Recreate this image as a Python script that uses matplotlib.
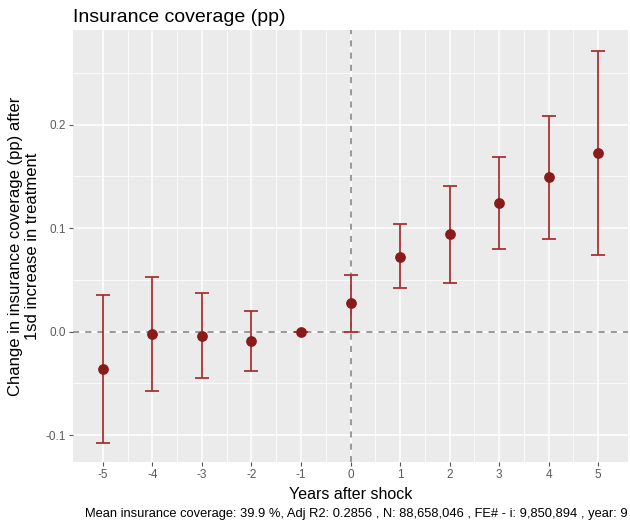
import matplotlib
matplotlib.use("Agg")
import matplotlib.pyplot as plt
from matplotlib.ticker import MultipleLocator, FixedLocator

years = [-5, -4, -3, -2, -1, 0, 1, 2, 3, 4, 5]
estimate = [-0.036, -0.002, -0.004, -0.009, 0.0, 0.028, 0.072, 0.094, 0.124, 0.149, 0.173]
ci_low = [-0.108, -0.057, -0.045, -0.038, 0.0, 0.0, 0.042, 0.047, 0.080, 0.090, 0.074]
ci_high = [0.035, 0.053, 0.037, 0.020, 0.0, 0.055, 0.104, 0.141, 0.169, 0.208, 0.271]
y_ticks = [-0.1, 0.0, 0.1, 0.2]
y_tick_labels = ["-0.1", "0.0", "0.1", "0.2"]

title = "Insurance coverage (pp)"
ylabel = "Change in insurance coverage (pp) after\n1sd increase in treatment"
xlabel = "Years after shock"
caption = "Mean insurance coverage: 39.9 %, Adj R2: 0.2856 , N: 88,658,046 , FE# - i: 9,850,894 , year: 9"

plt.rcParams['font.family'] = ['Liberation Sans', 'DejaVu Sans']

fig = plt.figure(figsize=(6.3, 5.23), dpi=100)
ax = fig.add_axes([0.1159, 0.1166, 0.9968 - 0.1159, 0.9426 - 0.1166])
ax.set_facecolor("#EBEBEB")
for s in ax.spines.values():
    s.set_visible(False)

ax.set_xlim(-5.6, 5.6)
ax.set_ylim(-0.126, 0.2915)

ax.xaxis.set_major_locator(FixedLocator(years))
ax.xaxis.set_minor_locator(FixedLocator([y + 0.5 for y in years[:-1]]))
ax.yaxis.set_major_locator(FixedLocator(y_ticks))
ax.yaxis.set_minor_locator(MultipleLocator(0.05))
ax.set_yticklabels(y_tick_labels)
ax.set_xticklabels([str(y) for y in years])

ax.grid(which="major", color="white", linewidth=1.1)
ax.grid(which="minor", color="white", linewidth=0.55)
ax.set_axisbelow(True)
ax.tick_params(which="major", length=3, color="#555555", labelsize=8.5, labelcolor="#5A5A5A", pad=2)
ax.tick_params(which="minor", length=0)

ax.axhline(0, color="#7F7F7F", linestyle=(0, (4, 4)), linewidth=1.1, zorder=1)
ax.axvline(0, color="#7F7F7F", linestyle=(0, (4, 4)), linewidth=1.1, zorder=1)

yerr = [[e - l for e, l in zip(estimate, ci_low)], [h - e for e, h in zip(estimate, ci_high)]]
ax.errorbar(years, estimate, yerr=yerr, fmt="none", ecolor="#A83232", elinewidth=1.3,
            capsize=5, capthick=1.3, zorder=3)
ax.scatter(years, estimate, s=45, color="#8B1A1A", zorder=4)

ax.set_xlabel(xlabel, fontsize=11.5, labelpad=4)
ax.set_ylabel(ylabel, fontsize=12, labelpad=4)
ax.set_title(title, fontsize=14, loc="left", pad=6)
fig.text(0.997, 0.006, caption, ha="right", va="bottom", fontsize=9.3)

fig.savefig("out.png", dpi=100)
